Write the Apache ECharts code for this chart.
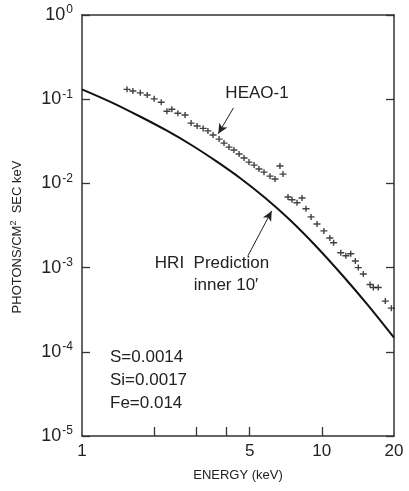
<!DOCTYPE html>
<html><head><meta charset="utf-8">
<script src="https://cdn.jsdelivr.net/npm/echarts@6/dist/echarts.min.js"></script>
<style>html,body{margin:0;padding:0;background:#fff}#c{width:409px;height:491px}</style>
</head><body><div id="c"></div>
<script>
// HEAO-1 measured spectrum (keV, photons/cm^2 s keV)
const heaoEnergy = [1.54,1.63,1.75,1.87,2.00,2.14,2.26,2.37,2.51,2.69,2.85,3.02,3.20,3.35,3.52,3.73,3.91,4.10,4.30,4.52,4.74,4.97,5.22,5.47,5.74,6.08,6.38,6.69,6.89,7.23,7.51,7.88,8.27,8.59,9.02,9.55,10.2,10.8,11.2,12.0,12.6,13.2,13.8,14.2,14.9,15.9,16.4,17.2,18.4,19.5];
const heaoFlux = [0.131,0.125,0.119,0.112,0.101,0.092,0.072,0.076,0.068,0.065,0.052,0.048,0.045,0.042,0.0375,0.0336,0.0301,0.027,0.0249,0.0223,0.020,0.0179,0.0165,0.0148,0.0136,0.0122,0.0113,0.0161,0.0129,0.0069,0.0064,0.0059,0.0067,0.0050,0.0040,0.0033,0.00273,0.00225,0.00197,0.0015,0.00138,0.00146,0.0012,0.001,0.00084,0.00063,0.00058,0.00058,0.0004,0.00033];
// HRI prediction curve (inner 10')
const hriEnergy = [1.0,1.321,1.746,2.251,2.903,3.638,4.559,5.796,7.369,9.504,12.26,15.66,20.0];
const hriFlux = [0.1311,0.0924,0.0623,0.0425,0.0278,0.01823,0.01159,0.006745,0.003675,0.001771,0.000795,0.000351,0.000147];
const xTickValues = [2,3,4,5,10];
const xLabelValues = [1,5,10,20];
const abundanceLines = ['S=0.0014','Si=0.0017','Fe=0.014'];

const FONT = 'Liberation Sans, Arial, sans-serif';
const INK = '#222';
const chart = echarts.init(document.getElementById('c'), null, {renderer:'canvas'});

const yLab = {
  formatter: v => '{b|10}{s|' + Math.round(Math.log10(v)) + '}',
  margin: 9,
  rich: {
    b: {fontSize: 18, fontFamily: FONT, color: INK, lineHeight: 22},
    s: {fontSize: 12, fontFamily: FONT, color: INK, verticalAlign: 'top', lineHeight: 22, padding:[0,0,0,1]}
  }
};

const option = {
  animation: false,
  backgroundColor: '#fff',
  grid: {left: 82, right: 15, top: 15, bottom: 55, containLabel: false, outerBoundsMode: 'none'},
  xAxis: [{
    type: 'log', logBase: 10, min: 1, max: 20, position: 'bottom',
    axisLine: {show: true, lineStyle: {color: '#333', width: 1.5}},
    axisTick: {show: true, inside: true, length: 9, customValues: xTickValues, lineStyle: {color: '#333', width: 1.3}},
    axisLabel: {show: true, customValues: xLabelValues, margin: 7, fontSize: 17, fontFamily: FONT, color: INK,
      formatter: v => String(Math.round(v))},
    splitLine: {show: false}, minorTick: {show: false},
    name: 'ENERGY (keV)', nameLocation: 'middle', nameGap: 33,
    nameTextStyle: {fontSize: 13, fontFamily: FONT, color: INK}
  }, {
    type: 'log', logBase: 10, min: 1, max: 20, position: 'top',
    axisLine: {show: true, lineStyle: {color: '#333', width: 1.5}},
    axisTick: {show: false}, axisLabel: {show: false}, splitLine: {show: false}
  }],
  yAxis: [{
    type: 'log', logBase: 10, min: 1e-5, max: 1, position: 'left',
    axisLine: {show: true, lineStyle: {color: '#333', width: 1.5}},
    axisTick: {show: true, inside: true, length: 8, lineStyle: {color: '#333', width: 1.3}},
    axisLabel: yLab,
    splitLine: {show: false}
  }, {
    type: 'log', logBase: 10, min: 1e-5, max: 1, position: 'right',
    axisLine: {show: true, lineStyle: {color: '#333', width: 1.5}},
    axisTick: {show: true, inside: true, length: 8, lineStyle: {color: '#333', width: 1.3}},
    axisLabel: {show: false},
    splitLine: {show: false}
  }],
  series: [{
    type: 'line', name: 'HRI Prediction', xAxisIndex: 0, yAxisIndex: 0,
    data: hriEnergy.map((e, i) => [e, hriFlux[i]]),
    smooth: 0.3, showSymbol: false, symbol: 'none',
    lineStyle: {color: '#111', width: 2},
    markLine: {
      silent: true, symbol: ['none', 'arrow'], symbolSize: [7, 10],
      label: {show: false},
      lineStyle: {color: INK, width: 1, type: 'solid'},
      data: [
        [{coord: [4.28, 0.0789]}, {coord: [3.70, 0.0388]}],
        [{coord: [4.92, 0.00138]}, {coord: [6.18, 0.00471]}]
      ]
    }
  }, {
    type: 'scatter', name: 'HEAO-1', xAxisIndex: 0, yAxisIndex: 0,
    data: heaoEnergy.map((e, i) => [e, heaoFlux[i]]),
    symbol: 'path://M0,2.3H7V3.7H0Z M2.8,0H4.2V6H2.8Z', symbolSize: [7, 6],
    itemStyle: {color: '#111'}
  }],
  graphic: [
    {type: 'text', x: 257, y: 93, style: {text: 'HEAO-1', font: '17px ' + FONT, fill: INK, align: 'center', verticalAlign: 'middle'}},
    {type: 'text', x: 212, y: 263, style: {text: 'HRI  Prediction', font: '17px ' + FONT, fill: INK, align: 'center', verticalAlign: 'middle'}},
    {type: 'text', x: 226, y: 285, style: {text: 'inner 10\u2032', font: '17px ' + FONT, fill: INK, align: 'center', verticalAlign: 'middle'}},
    {type: 'text', x: 110, y: 380, style: {text: abundanceLines.join('\n'), font: '17px ' + FONT, lineHeight: 23, fill: INK, align: 'left', verticalAlign: 'middle'}},
    {type: 'text', x: 17, y: 237, rotation: Math.PI / 2, style: {
      text: '{a|PHOTONS/CM}{s|2}{a|  SEC keV}', align: 'center', verticalAlign: 'middle',
      rich: {a: {fontSize: 13, fontFamily: FONT, fill: INK, color: INK, lineHeight: 16},
             s: {fontSize: 9, fontFamily: FONT, fill: INK, color: INK, verticalAlign: 'top', lineHeight: 16}}
    }}
  ]
};
chart.setOption(option);
</script>
</body></html>
